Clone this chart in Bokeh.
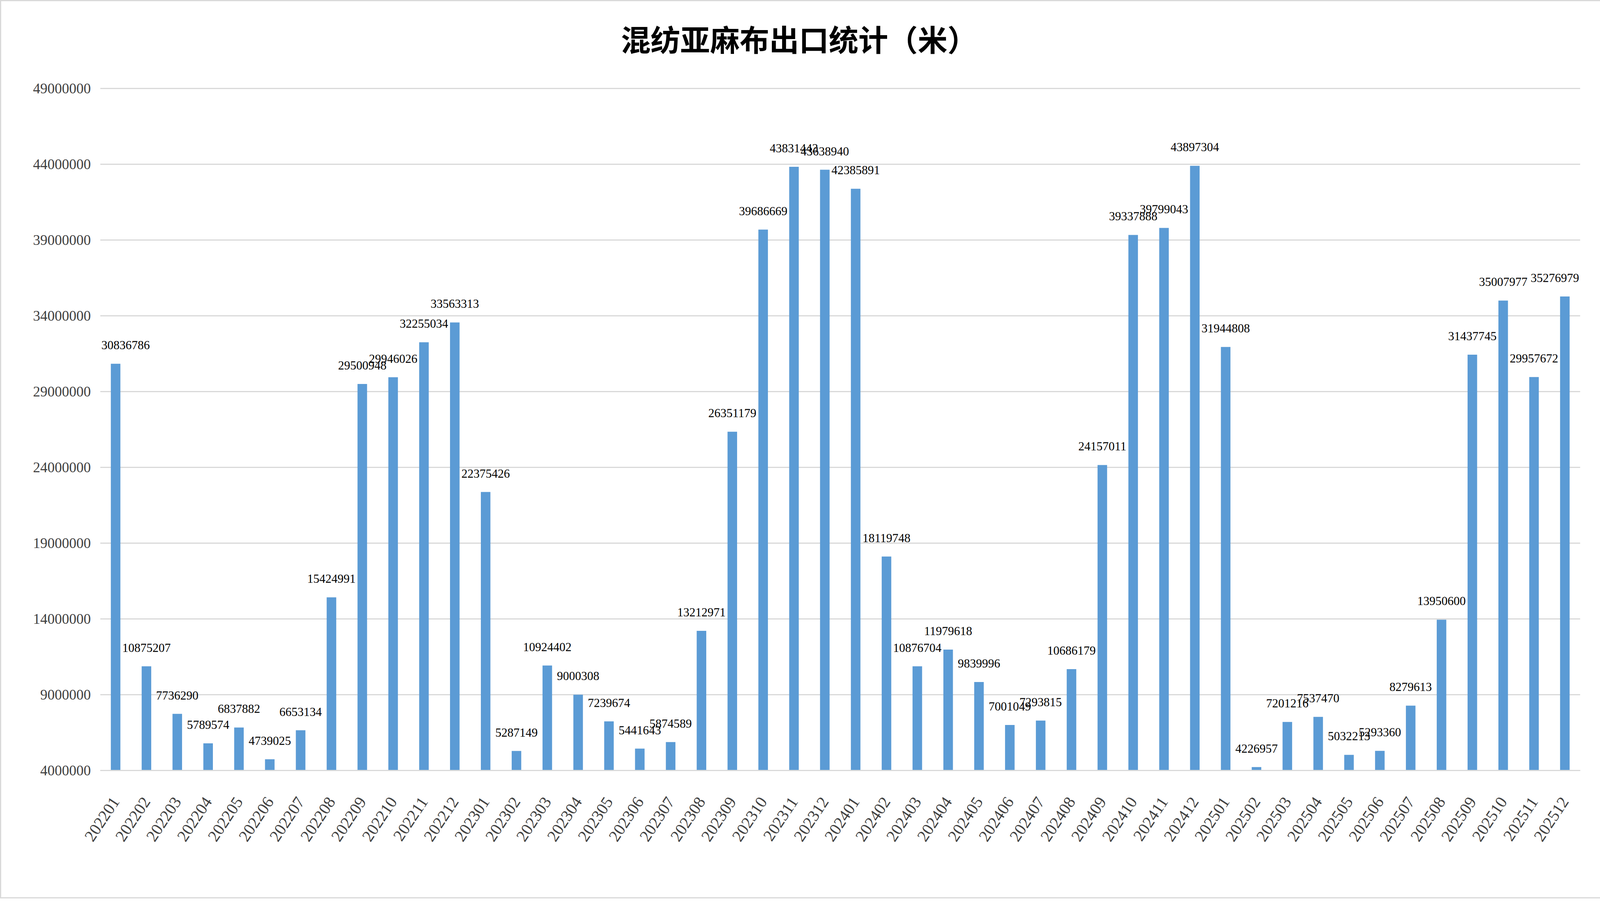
import math
from bokeh.plotting import figure
from bokeh.models import (ColumnDataSource, FactorRange, Range1d, FixedTicker,
                          NumeralTickFormatter, LabelSet, Label)
from bokeh.core.properties import value
from bokeh.embed import file_html
from bokeh.resources import INLINE

# ---------------- data ----------------
title_text = "混纺亚麻布出口统计（米）"
months = [
    "202201", "202202", "202203", "202204", "202205", "202206",
    "202207", "202208", "202209", "202210", "202211", "202212",
    "202301", "202302", "202303", "202304", "202305", "202306",
    "202307", "202308", "202309", "202310", "202311", "202312",
    "202401", "202402", "202403", "202404", "202405", "202406",
    "202407", "202408", "202409", "202410", "202411", "202412",
    "202501", "202502", "202503", "202504", "202505", "202506",
    "202507", "202508", "202509", "202510", "202511", "202512",
]
export_m = [
    30836786, 10875207, 7736290, 5789574, 6837882, 4739025,
    6653134, 15424991, 29500948, 29946026, 32255034, 33563313,
    22375426, 5287149, 10924402, 9000308, 7239674, 5441643,
    5874589, 13212971, 26351179, 39686669, 43831443, 43638940,
    42385891, 18119748, 10876704, 11979618, 9839996, 7001049,
    7293815, 10686179, 24157011, 39337888, 39799043, 43897304,
    31944808, 4226957, 7201216, 7537470, 5032213, 5293360,
    8279613, 13950600, 31437745, 35007977, 29957672, 35276979,
]
y_ticks = [4000000, 9000000, 14000000, 19000000, 24000000,
           29000000, 34000000, 39000000, 44000000, 49000000]

# ---------------- layout ----------------
W, H = 4106, 2300            # + 3px border each side = 4112 x 2306
FL, FT = 253, 223            # plot-area left / top (figure px)
FR, FB = 4042, 1969          # plot-area right / bottom
y_min, y_max = y_ticks[0], y_ticks[-1]
px_per_unit = (FB - FT) / (y_max - y_min)
y_top = y_max + FT / px_per_unit          # frame reaches the top edge
cat_px = (FR - FL) / len(months)

GRID = "#d9d9d9"
BAR = "#5b9bd5"
TXT = "#404040"
SERIF = "Liberation Serif"
LBL_PX = 31

# keep the first / last data labels inside the drawing area
labels_txt = [str(v) for v in export_m]
offs = []
for i, t in enumerate(labels_txt):
    c = (i + 0.5) * cat_px
    hw = 0.25 * LBL_PX * len(t) + 3
    o = 0.0
    if c - hw < 0:
        o = hw - c
    elif c + hw > FR - FL:
        o = (FR - FL) - (c + hw)
    offs.append(o)

src = ColumnDataSource(dict(
    month=months,
    value=export_m,
    label=labels_txt,
    xoff=offs,
))

p = figure(
    width=W, height=H,
    x_range=FactorRange(factors=months, range_padding=0),
    y_range=Range1d(y_min, y_top),
    output_backend="svg", toolbar_location=None,
    min_border_left=FL, min_border_top=0,
    min_border_right=W - FR, min_border_bottom=H - FB,
)
p.styles = {"border": f"3px solid {GRID}"}
p.outline_line_color = None
p.background_fill_color = "white"
p.border_fill_color = "white"

p.vbar(x="month", top="value", bottom=y_min, width=0.31, source=src,
       fill_color=BAR, line_color=None)

# grid
p.xgrid.grid_line_color = None
p.ygrid.grid_line_color = GRID
p.ygrid.grid_line_width = 3
p.ygrid.ticker = FixedTicker(ticks=y_ticks)

# y axis
p.yaxis.ticker = FixedTicker(ticks=y_ticks)
p.yaxis.formatter = NumeralTickFormatter(format="0")
p.yaxis.axis_line_color = None
p.yaxis.major_tick_line_color = None
p.yaxis.minor_tick_line_color = None
p.yaxis.major_tick_out = 0
p.yaxis.major_tick_in = 0
p.yaxis.major_label_standoff = 24
p.yaxis.major_label_text_font = SERIF
p.yaxis.major_label_text_font_size = "37px"
p.yaxis.major_label_text_color = TXT

# x axis
p.xaxis.axis_line_color = GRID
p.xaxis.axis_line_width = 3
p.xaxis.major_tick_line_color = None
p.xaxis.minor_tick_line_color = None
p.xaxis.major_tick_out = 0
p.xaxis.major_tick_in = 0
p.xaxis.major_label_orientation = 0.986
p.xaxis.major_label_standoff = 72
p.xaxis.major_label_text_font = SERIF
p.xaxis.major_label_text_font_size = "42px"
p.xaxis.major_label_text_color = TXT

# data labels
labels = LabelSet(x="month", y="value", text="label", source=src,
                  x_offset="xoff", y_offset=37,
                  text_align="center", text_baseline="alphabetic",
                  text_font=value(SERIF), text_font_size=f"{LBL_PX}px",
                  text_color="black")
p.add_layout(labels)

# chart title
title_x = (2042 - FL) / cat_px
title_y = y_max + (FT - 94) / px_per_unit
p.add_layout(Label(x=title_x, y=title_y, text=title_text,
                   text_align="center", text_baseline="middle",
                   text_font="Noto Sans CJK SC", text_font_style="bold",
                   text_font_size="76px", text_color="black"))

open("out.html", "w").write(file_html(p, INLINE))
